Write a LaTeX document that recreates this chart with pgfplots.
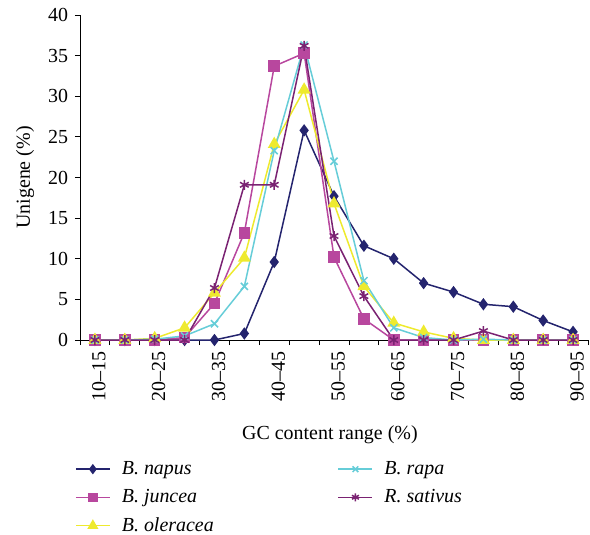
\documentclass[border=0pt]{standalone}
\usepackage{fontspec}
\setmainfont{Liberation Serif}
\usepackage{pgfplots}
\pgfplotsset{compat=1.18}
\definecolor{cnapus}{HTML}{24246E}
\definecolor{cjuncea}{HTML}{B8479E}
\definecolor{coler}{HTML}{EEEA2E}
\definecolor{crapa}{HTML}{66CDD8}
\definecolor{csat}{HTML}{7A2272}
\pgfplotstableread{
x napus juncea oleracea rapa sativus
0 0 0 0 0 0
1 0 0 0 0 0
2 0 0 0.2 0.1 0
3 0 0.3 1.5 0.5 0
4 0 4.5 5.8 2.0 6.4
5 0.8 13.2 10.1 6.6 19.1
6 9.6 33.7 24.1 23.3 19.1
7 25.8 35.3 30.8 36.3 36.2
8 17.7 10.2 16.8 22.0 12.8
9 11.6 2.6 6.6 7.3 5.4
10 10.0 0 2.1 1.5 0
11 7.0 0 1.0 0.3 0
12 5.9 0 0.2 0 0
13 4.4 0 0 0.1 1.1
14 4.1 0 0 0 0
15 2.4 0 0 0 0
16 1.0 0 0 0 0
}\data
\begin{document}
\fontsize{20}{24}\selectfont
\begin{tikzpicture}
\begin{axis}[
  at={(0,0)}, anchor=south west,
  scale only axis, width=508bp, height=325bp,
  xmin=-0.5, xmax=16.5, ymin=0, ymax=40,
  axis x line*=bottom, axis y line*=left,
  axis line style={-, black, line width=0.8bp},
  tick align=outside,
  major tick length=5bp, minor tick length=5bp,
  ytick={0,5,...,40},
  xtick={0,2,...,16},
  xticklabels={10--15,20--25,30--35,40--45,50--55,60--65,70--75,80--85,90--95},
  major x tick style={draw=none},
  minor xtick={-0.5,0.5,...,16.5},
  every tick/.style={black, line width=0.8bp},
  /pgf/number format/assume math mode=true,
  tick label style={font=\fontsize{20}{24}\selectfont},
  xticklabel style={rotate=90, anchor=east, yshift=-4bp},
  xlabel={GC content range (\%)},
  ylabel={Unigene (\%)},
  every axis x label/.style={at={(axis description cs:0.492,-0.29)}, anchor=center, font=\fontsize{20}{24}\selectfont},
  every axis y label/.style={at={(axis description cs:-0.108,0.5)}, rotate=90, anchor=center, font=\fontsize{20}{24}\selectfont},
  legend columns=2,
  legend cell align=left,
  legend style={at={(axis description cs:-0.01,-0.366)}, anchor=north west, draw=none, fill=none,
    font=\fontsize{20}{24}\selectfont\itshape, inner sep=0pt,
    /tikz/every even column/.append style={column sep=122bp},
    row sep=8bp},
  legend image code/.code={\draw[mark repeat=2,mark phase=2] plot coordinates {(0bp,0bp) (17bp,0bp) (34bp,0bp)};\path[draw=none] (34bp,0bp) -- (44bp,0bp);},
  every axis plot/.append style={line width=1.5bp},
]
\addplot[cnapus, mark=diamond*, mark size=5bp, forget plot] table[x=x,y=napus]{\data};
\addplot[cjuncea, mark=square*, mark size=5bp, forget plot] table[x=x,y=juncea]{\data};
\addplot[coler, mark=triangle*, mark size=6bp, forget plot] table[x=x,y=oleracea]{\data};
\addplot[crapa, mark=x, mark size=5bp, forget plot] table[x=x,y=rapa]{\data};
\addplot[csat, mark=asterisk, mark size=5bp, forget plot] table[x=x,y=sativus]{\data};
\addlegendimage{cnapus, line width=1.5bp, mark=diamond*, mark size=4bp}
\addlegendentry{B. napus}
\addlegendimage{crapa, line width=1.5bp, mark=x, mark size=4bp}
\addlegendentry{B. rapa}
\addlegendimage{cjuncea, line width=1.5bp, mark=square*, mark size=4bp}
\addlegendentry{B. juncea}
\addlegendimage{csat, line width=1.5bp, mark=asterisk, mark size=4bp}
\addlegendentry{R. sativus}
\addlegendimage{coler, line width=1.5bp, mark=triangle*, mark size=5bp}
\addlegendentry{B. oleracea}
\end{axis}
\pgfresetboundingbox
\path (-80bp,-195bp) rectangle (510bp,340bp);
\end{tikzpicture}
\end{document}
